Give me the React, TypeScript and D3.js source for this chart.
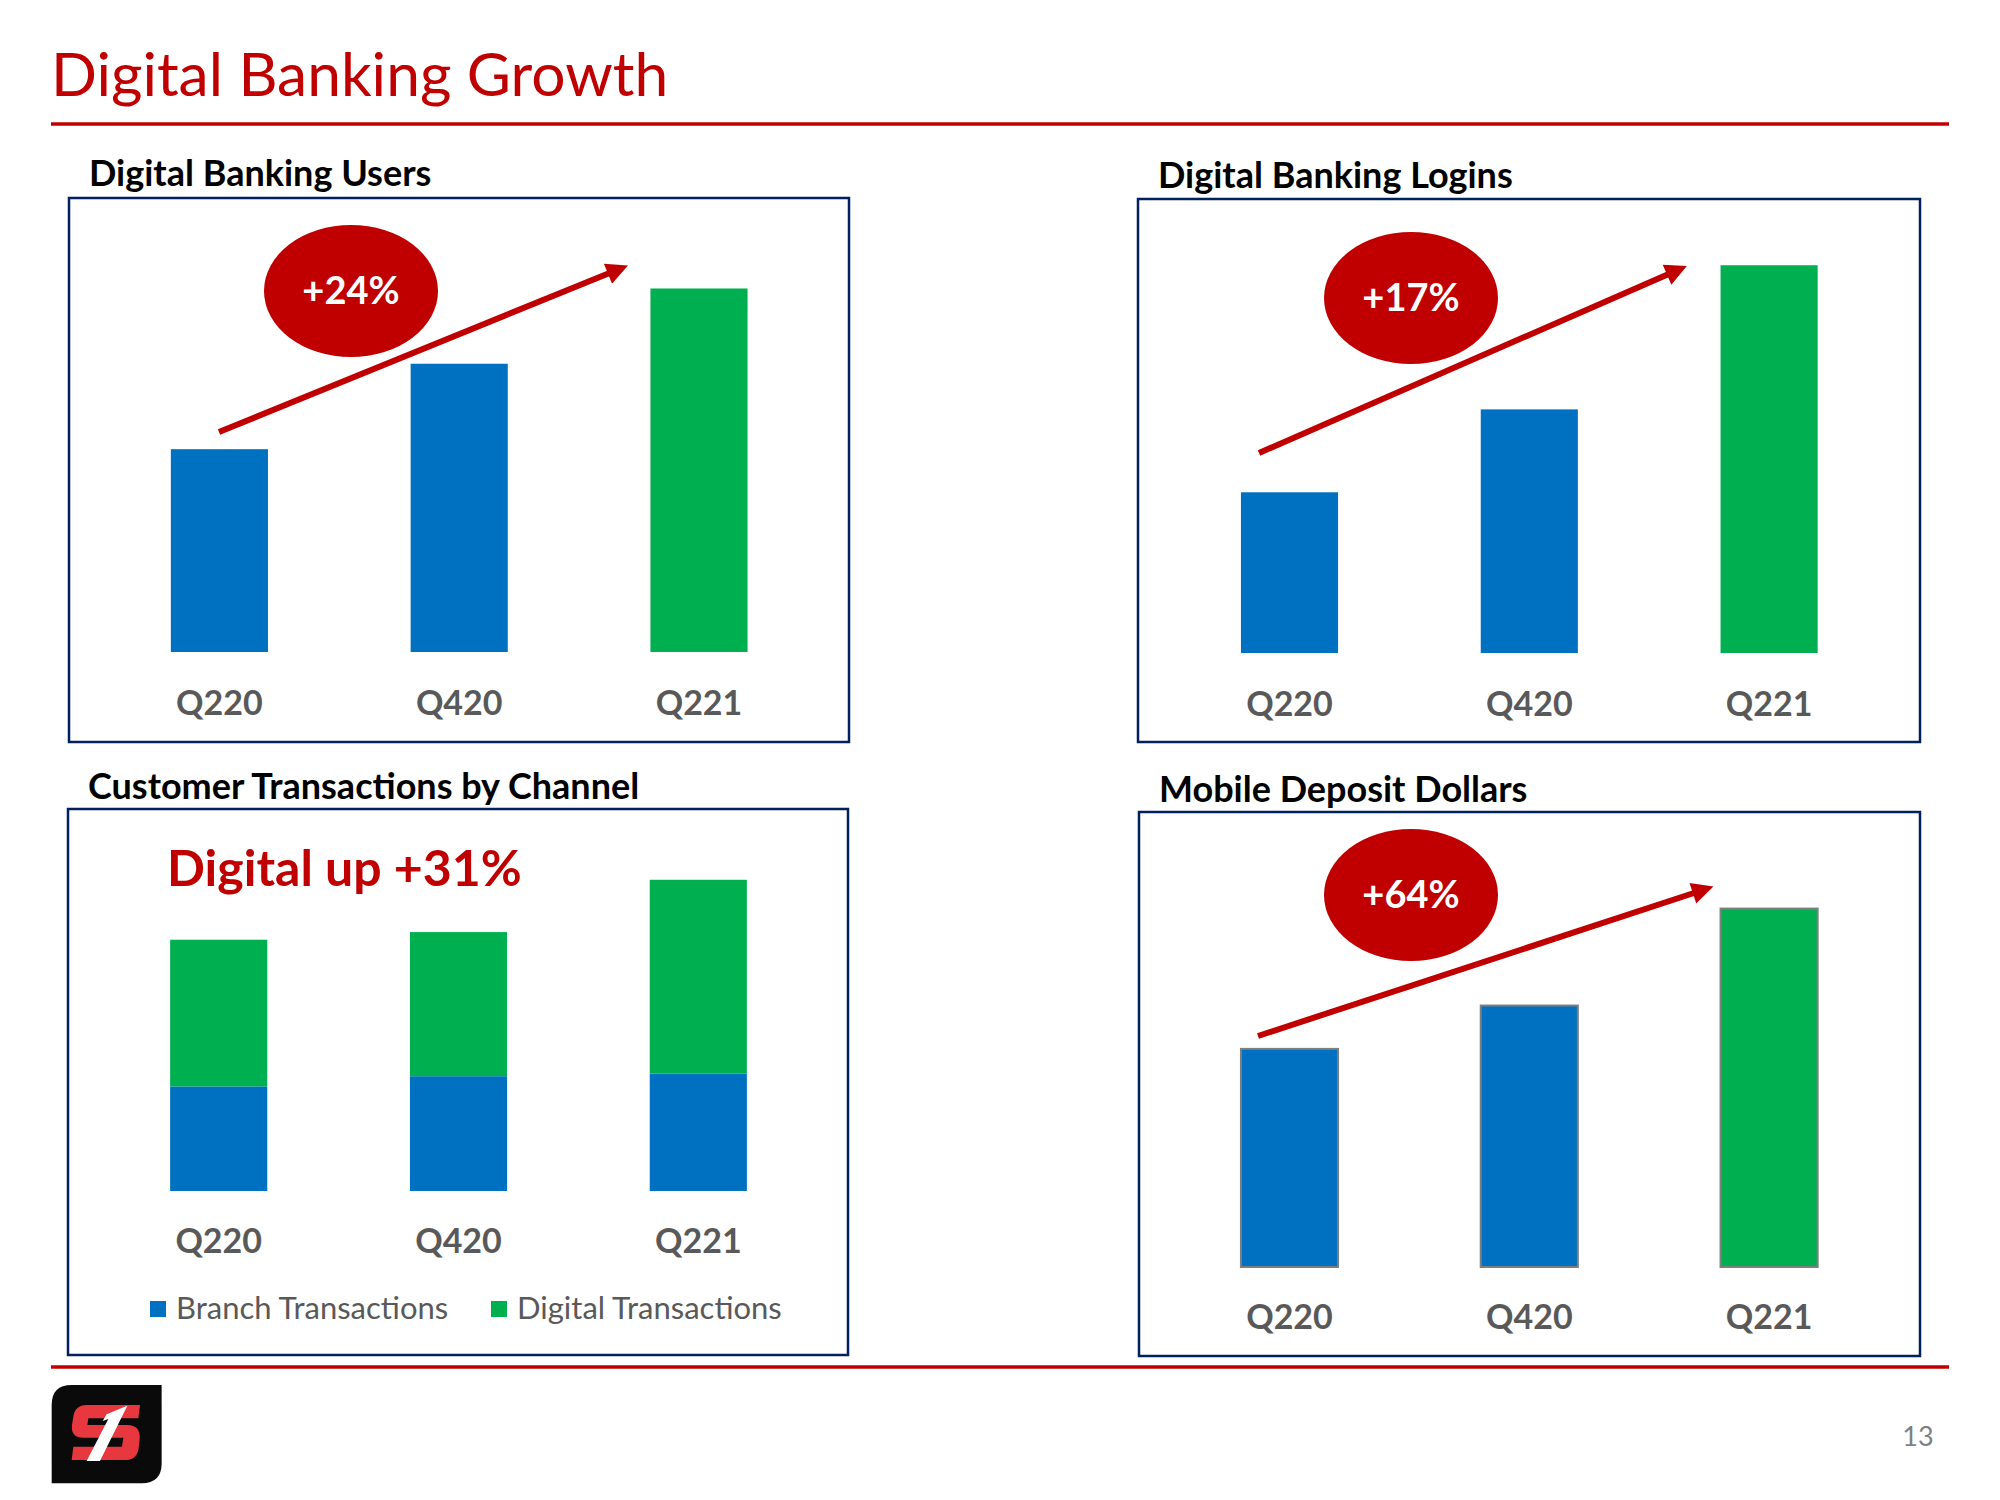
import React from "react";
import * as d3 from "d3";

// ---------- data ----------
const categories = ["Q220", "Q420", "Q221"];
const usersValues = [159, 226, 285];
const loginsValues = [126, 191, 304];
const branchTransactions = [82, 90, 92];
const digitalTransactions = [115, 113, 152];
const mobileDepositValues = [171, 205, 281];
const usersGrowth = "+24%";
const loginsGrowth = "+17%";
const digitalGrowth = "Digital up +31%";
const mobileGrowth = "+64%";
const seriesNames = ["Branch Transactions", "Digital Transactions"];

// ---------- style ----------
const BLUE = "#0070C0";
const GREEN = "#00B050";
const RED = "#C00000";
const NAVY = "#002060";
const GRAY = "#595959";
const FONT = "Lato, 'Open Sans', sans-serif";
const PX_PER_UNIT = 1.2755;
const STEP = 239.8;

function makeX(c0: number) {
  return d3
    .scaleBand<string>()
    .domain(categories)
    .range([c0 - STEP / 2, c0 - STEP / 2 + STEP * 3])
    .paddingInner(0.595)
    .paddingOuter(0.2975);
}
function makeY(bottom: number) {
  return d3.scaleLinear().domain([0, 320]).range([bottom, bottom - 320 * PX_PER_UNIT]);
}

type Panel = {
  title: string;
  box: { x: number; y: number; w: number; h: number };
  titleY: number;
  bottom: number;
  c0: number;
  labelY: number;
};

const P1: Panel = { title: "Digital Banking Users", box: { x: 69, y: 198, w: 780, h: 544 }, titleY: 186, bottom: 652, c0: 219.4, labelY: 715 };
const P2: Panel = { title: "Digital Banking Logins", box: { x: 1138, y: 199, w: 782, h: 543 }, titleY: 188, bottom: 653, c0: 1289.5, labelY: 716 };
const P3: Panel = { title: "Customer Transactions by Channel", box: { x: 68, y: 809, w: 780, h: 546 }, titleY: 799, bottom: 1191, c0: 218.7, labelY: 1253 };
const P4: Panel = { title: "Mobile Deposit Dollars", box: { x: 1139, y: 812, w: 781, h: 544 }, titleY: 802, bottom: 1267, c0: 1289.5, labelY: 1329 };

function Frame({ p }: { p: Panel }) {
  return (
    <g>
      <text x={p.box.x + 20} y={p.titleY} fontFamily={FONT} fontWeight={700} fontSize={36} fill="#000">
        {p.title}
      </text>
      <rect x={p.box.x} y={p.box.y} width={p.box.w} height={p.box.h} fill="#fff" stroke={NAVY} strokeWidth={2.5} />
    </g>
  );
}

function Labels({ p }: { p: Panel }) {
  const x = makeX(p.c0);
  return (
    <g>
      {categories.map((c) => (
        <text key={c} x={(x(c) as number) + x.bandwidth() / 2} y={p.labelY} textAnchor="middle" fontFamily={FONT} fontWeight={700} fontSize={34} fill={GRAY}>
          {c}
        </text>
      ))}
    </g>
  );
}

function Badge({ cx, cy, label, from, to }: { cx: number; cy: number; label: string; from: [number, number]; to: [number, number] }) {
  return (
    <g>
      <ellipse cx={cx} cy={cy} rx={87} ry={66} fill={RED} />
      <text x={cx} y={cy + 13} textAnchor="middle" fontFamily={FONT} fontWeight={700} fontSize={38} fill="#fff">
        {label}
      </text>
      <line x1={from[0]} y1={from[1]} x2={to[0]} y2={to[1]} stroke={RED} strokeWidth={6} markerEnd="url(#arrowHead)" />
    </g>
  );
}

function SimpleBars({ p, values, outline }: { p: Panel; values: number[]; outline?: boolean }) {
  const x = makeX(p.c0);
  const y = makeY(p.bottom);
  return (
    <g>
      {values.map((v, i) => (
        <rect
          key={categories[i]}
          x={x(categories[i])}
          y={y(v)}
          width={x.bandwidth()}
          height={y(0) - y(v)}
          fill={i === values.length - 1 ? GREEN : BLUE}
          stroke={outline ? "#7F7F7F" : "none"}
          strokeWidth={outline ? 2 : 0}
        />
      ))}
    </g>
  );
}

function StackedBars({ p }: { p: Panel }) {
  const x = makeX(p.c0);
  const y = makeY(p.bottom);
  const rows = categories.map((c, i) => ({ cat: c, branch: branchTransactions[i], digital: digitalTransactions[i] }));
  const stack = d3.stack<any>().keys(["branch", "digital"])(rows);
  const colors = [BLUE, GREEN];
  return (
    <g>
      {stack.map((layer, li) =>
        layer.map((d: any) => (
          <rect key={li + d.data.cat} x={x(d.data.cat)} y={y(d[1])} width={x.bandwidth()} height={y(d[0]) - y(d[1])} fill={colors[li]} />
        ))
      )}
    </g>
  );
}

export default function App() {
  const legendColors = [BLUE, GREEN];
  const legendX = [150, 491];
  return (
    <svg width={2000} height={1500} style={{ position: "absolute", left: 0, top: 0, background: "#fff" }}>
      <defs>
        <marker id="arrowHead" viewBox="0 0 10 10" refX={2} refY={5} markerWidth={4.2} markerHeight={3.6} orient="auto" markerUnits="strokeWidth">
          <path d="M0,0 L10,5 L0,10 z" fill={RED} />
        </marker>
      </defs>
      <rect width={2000} height={1500} fill="#fff" />
      <text x={51} y={96} fontFamily={FONT} fontSize={60.5} fill={RED}>
        Digital Banking Growth
      </text>
      <line x1={51} x2={1949} y1={124} y2={124} stroke={RED} strokeWidth={3.5} />

      <Frame p={P1} />
      <SimpleBars p={P1} values={usersValues} />
      <Labels p={P1} />
      <Badge cx={351} cy={291} label={usersGrowth} from={[219, 432]} to={[612, 272]} />

      <Frame p={P2} />
      <SimpleBars p={P2} values={loginsValues} />
      <Labels p={P2} />
      <Badge cx={1411} cy={298} label={loginsGrowth} from={[1259, 453]} to={[1671, 273]} />

      <Frame p={P3} />
      <StackedBars p={P3} />
      <Labels p={P3} />
      <text x={167} y={886} fontFamily={FONT} fontWeight={700} fontSize={50} fill={RED}>
        {digitalGrowth}
      </text>
      {seriesNames.map((n, i) => (
        <g key={n}>
          <rect x={legendX[i]} y={1301} width={16} height={16} fill={legendColors[i]} />
          <text x={legendX[i] + 26} y={1319} fontFamily={FONT} fontSize={31} fill={GRAY}>
            {n}
          </text>
        </g>
      ))}

      <Frame p={P4} />
      <SimpleBars p={P4} values={mobileDepositValues} outline />
      <Labels p={P4} />
      <Badge cx={1411} cy={895} label={mobileGrowth} from={[1258, 1036]} to={[1697, 892]} />

      <line x1={51} x2={1949} y1={1367} y2={1367} stroke={RED} strokeWidth={3.5} />

      {/* logo */}
      <g transform="translate(40,1375) scale(0.3333)">
        <path d="M95,30 L365,30 L365,265 Q365,325 305,325 L35,325 L35,90 Q35,30 95,30 Z" fill="#0a0a0a" />
        <path
          d="M300,90 L140,90 Q105,90 100,125 L96,150 Q92,188 130,188 L250,188 L246,215 L100,215 L95,255 L255,255 Q292,255 296,218 L299,192 Q302,150 262,150 L142,150 L145,130 L295,130 Z"
          fill="#E8383F"
        />
        <path d="M200,118 L262,92 L180,258 L140,258 L205,132 L188,138 Z" fill="#fff" />
      </g>
      <text x={1918} y={1446} textAnchor="middle" fontFamily={FONT} fontSize={27} fill="#7F7F7F">
        13
      </text>
    </svg>
  );
}
